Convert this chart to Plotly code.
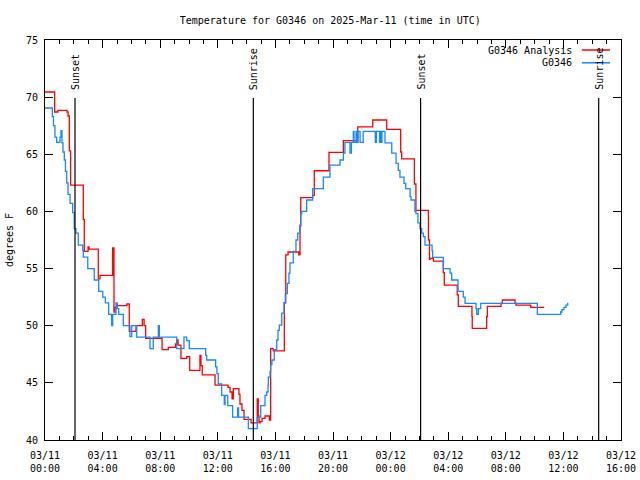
import pandas as pd
import plotly.graph_objects as go

# ---- data (hours after 2025-03-11 00:00 UTC, degrees F) ----
analysis_hours = [0.0, 0.67, 0.90, 1.53, 1.60, 1.69, 1.78, 2.66, 2.73, 2.99, 3.06, 3.70, 3.82, 4.70,
                  4.79, 4.86, 5.00, 5.69, 5.85, 6.32, 6.76, 6.88, 6.99, 8.13, 8.56, 9.06, 9.15, 9.24,
                  9.44, 9.84, 10.05, 10.76, 10.83, 10.92, 11.81, 12.71, 12.85, 12.99, 13.08, 13.47,
                  13.54, 13.68, 13.82, 14.31, 14.74, 14.81, 14.86, 14.93, 15.07, 15.28, 15.58, 15.67,
                  15.85, 16.62, 16.72, 16.88, 17.62, 17.71, 17.76, 18.59, 18.70, 19.72, 20.72, 21.72,
                  22.76, 23.73, 24.70, 24.77, 25.65, 25.76, 26.63, 26.70, 26.74, 26.97, 27.66, 27.73,
                  28.63, 28.70, 29.65, 29.67, 30.67, 30.72, 31.67, 31.76, 32.64, 32.71, 33.73, 34.67]
analysis_temp = [70.45, 68.7, 68.85, 68.7, 68.35, 65.3, 62.3, 59.3, 56.5, 56.9, 56.7, 54.1, 54.4, 56.8,
                 51.2, 51.6, 51.75, 51.9, 49.5, 50.0, 50.55, 50.0, 48.9, 47.9, 48.1, 48.4, 48.75, 48.3,
                 47.15, 47.3, 46.1, 47.4, 46.5, 45.7, 44.8, 44.6, 44.2, 43.6, 44.5, 44.0,
                 43.15, 42.6, 41.8, 41.5, 43.6, 42.1, 41.5, 41.6, 41.9, 42.1, 41.75, 48.0,
                 47.8, 52.0, 56.2, 56.45, 56.2, 58.8, 61.2, 61.4, 63.56, 65.17, 66.2, 67.4,
                 68.0, 67.18, 65.2, 64.6, 62.4, 60.1, 57.5, 55.8, 55.9, 55.66, 54.64, 53.56,
                 52.7, 51.7, 50.8, 49.77, 50.8, 51.7, 51.96, 52.25, 51.96, 51.8, 51.6, 51.6]

obs_hours = [0.0, 0.51, 0.59, 0.69, 0.81, 1.04, 1.11, 1.18, 1.25, 1.34, 1.42, 1.51, 1.60, 1.74, 1.92,
             2.03, 2.15, 2.31, 2.62, 2.66, 2.97, 3.42, 3.73, 4.01, 4.19, 4.42, 4.63, 4.70, 4.93, 5.02,
             5.12, 5.44, 5.90, 6.02, 6.37, 7.29, 7.52, 7.87, 7.94, 9.15, 9.65, 9.84, 10.02, 11.16,
             11.23, 11.85, 11.94, 12.03, 12.27, 12.45, 12.50, 12.69, 13.03, 13.38, 13.44, 14.12,
             14.74, 14.98, 15.28, 15.40, 15.49, 15.51, 15.63, 15.67, 15.76, 15.92, 16.09, 16.18,
             16.27, 16.44, 16.60, 16.69, 16.83, 16.94, 17.01, 17.24, 17.43, 17.55, 17.69, 17.76,
             17.83, 18.17, 18.59, 19.33, 19.79, 20.49, 20.72, 20.83, 21.18, 21.28, 21.41, 21.46,
             21.60, 21.67, 21.74, 21.88, 22.10, 22.94, 23.01, 23.23, 23.28, 23.37, 23.40, 23.61,
             24.08, 24.38, 24.53, 24.65, 24.93, 25.05, 25.35, 25.42, 25.69, 25.76, 25.90, 26.04,
             26.16, 26.27, 26.39, 26.88, 26.92, 27.66, 28.13, 28.24, 28.68, 29.05, 29.17, 29.93,
             29.98, 30.09, 30.26, 34.19, 35.81, 35.90, 36.04, 36.18, 36.30]
obs_temp = [69.05, 68.3, 67.5, 66.5, 66.05, 66.5, 67.06, 66.0, 65.2, 64.5, 63.5, 62.5, 61.5, 60.7, 59.9,
            58.5, 58.1, 57.06, 56.6, 56.0, 55.0, 54.0, 53.0, 52.5, 52.0, 51.0, 50.0, 51.0, 52.0, 51.5,
            51.0, 50.0, 49.05, 50.0, 49.0, 48.0, 49.0, 50.0, 49.0, 48.0, 49.0, 48.7, 48.0, 47.4,
            47.0, 46.4, 45.8, 44.9, 43.9, 43.1, 43.9, 43.0, 42.0, 42.8, 42.0, 41.0,
            42.0, 43.0, 43.9, 44.2, 44.8, 45.5, 46.0, 46.6, 47.0, 47.9, 48.75, 49.6,
            50.06, 51.1, 52.0, 52.8, 53.7, 54.6, 55.5, 56.5, 57.5, 58.1, 58.7, 59.8,
            60.0, 61.0, 62.0, 63.0, 64.06, 64.5, 65.1, 66.05, 65.1, 66.05, 67.0, 66.05,
            67.0, 66.05, 67.0, 66.05, 67.0, 66.05, 67.0, 66.05, 67.0, 66.05, 67.0, 66.0,
            65.1, 64.2, 63.6, 63.0, 62.45, 62.0, 61.3, 61.0, 60.0, 59.8, 59.0, 58.5,
            58.1, 57.8, 57.06, 56.56, 55.98, 55.0, 54.6, 54.0, 53.0, 52.5, 51.96, 51.5,
            51.0, 51.5, 51.96, 51.0, 51.2, 51.4, 51.6, 51.8, 52.0]

event_times = ["2025-03-11 02:05", "2025-03-11 14:28", "2025-03-12 02:05", "2025-03-12 14:27"]
event_labels = ["Sunset", "Sunrise", "Sunset", "Sunrise"]

tick_times = ["2025-03-11 00:00", "2025-03-11 04:00", "2025-03-11 08:00", "2025-03-11 12:00",
              "2025-03-11 16:00", "2025-03-11 20:00", "2025-03-12 00:00", "2025-03-12 04:00",
              "2025-03-12 08:00", "2025-03-12 12:00", "2025-03-12 16:00"]
tick_labels = ["03/11<br>00:00", "03/11<br>04:00", "03/11<br>08:00", "03/11<br>12:00",
               "03/11<br>16:00", "03/11<br>20:00", "03/12<br>00:00", "03/12<br>04:00",
               "03/12<br>08:00", "03/12<br>12:00", "03/12<br>16:00"]

series_names = ["G0346 Analysis", "G0346"]
series_colors = ["#ff0000", "#1589ff"]

# ---- build ----
base = pd.Timestamp("2025-03-11 00:00")
xa = base + pd.to_timedelta(analysis_hours, unit="h")
xo = base + pd.to_timedelta(obs_hours, unit="h")

FONT = "DejaVu Sans Mono"
fig = go.Figure()
fig.add_trace(go.Scatter(x=xa, y=analysis_temp, mode="lines", line_shape="hv",
                         line=dict(color=series_colors[0], width=1.3), name=series_names[0]))
fig.add_trace(go.Scatter(x=xo, y=obs_temp, mode="lines", line_shape="hv",
                         line=dict(color=series_colors[1], width=1.3), name=series_names[1]))

for t, lab in zip(event_times, event_labels):
    fig.add_shape(type="line", xref="x", yref="paper", x0=t, x1=t, y0=0, y1=0.855,
                  line=dict(color="black", width=1.2))
    fig.add_annotation(x=t, xref="x", y=0.87, yref="paper", text=lab, textangle=-90,
                       showarrow=False, xanchor="center", yanchor="bottom",
                       font=dict(family=FONT, size=10, color="black"))

# legend (text to the left of the sample line, gnuplot style)
leg_y = [0.975, 0.943]
for name, col, yy in zip(series_names, series_colors, leg_y):
    fig.add_annotation(x=0.918, xref="paper", y=yy, yref="paper", text=name, showarrow=False,
                       xanchor="right", yanchor="middle", font=dict(family=FONT, size=10, color="black"))
    fig.add_shape(type="line", xref="paper", yref="paper", x0=0.932, x1=0.981, y0=yy, y1=yy,
                  line=dict(color=col, width=1.5))

fig.update_layout(
    width=640, height=480,
    margin=dict(l=45, r=19, t=40, b=40, autoexpand=False),
    paper_bgcolor="white", plot_bgcolor="white",
    showlegend=False,
    font=dict(family=FONT, size=10, color="black"),
    title=dict(text="Temperature for G0346 on 2025-Mar-11 (time in UTC)", x=0.516, xanchor="center",
               y=1 - 20 / 480, yanchor="middle", yref="container",
               font=dict(family=FONT, size=10, color="black")),
)
fig.update_xaxes(
    range=[base, base + pd.Timedelta(hours=40)], automargin=False,
    tickmode="array", tickvals=tick_times, ticktext=tick_labels,
    ticks="inside", ticklen=8, tickcolor="black", tickwidth=1,
    minor=dict(tickmode="linear", tick0="2025-03-11 00:00", dtick=3600000, ticks="inside",
               ticklen=4, tickcolor="black", tickwidth=1, showgrid=False),
    showline=True, linecolor="black", linewidth=1, mirror="ticks",
    showgrid=False, zeroline=False, ticklabelstandoff=6,
)
fig.update_yaxes(
    range=[40, 75], dtick=5, tick0=40, automargin=False,
    ticks="inside", ticklen=8, tickcolor="black", tickwidth=1,
    showline=True, linecolor="black", linewidth=1, mirror="ticks",
    showgrid=False, zeroline=False, ticklabelstandoff=4,
    title=dict(text="degrees F", standoff=10, font=dict(family=FONT, size=10)),
)

fig.write_html("out.html", config={"displayModeBar": False},
               post_script="document.body.style.margin='0px';document.body.style.padding='0px';")
